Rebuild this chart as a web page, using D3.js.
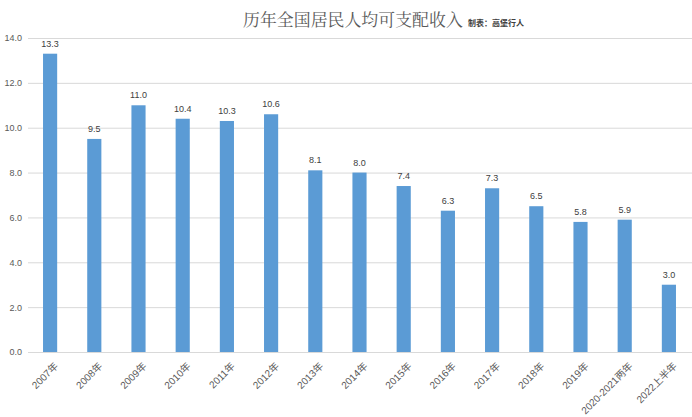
<!DOCTYPE html>
<html><head><meta charset="utf-8">
<script src="https://cdn.jsdelivr.net/npm/d3@7"></script>
<style>body{margin:0;background:#fff;}svg{display:block;}</style>
</head><body>
<svg id="c" width="692" height="417"></svg>
<script>
const categories = ["2007年","2008年","2009年","2010年","2011年","2012年","2013年","2014年","2015年","2016年","2017年","2018年","2019年","2020-2021两年","2022上半年"];
const values = [13.3,9.5,11.0,10.4,10.3,10.6,8.1,8.0,7.4,6.3,7.3,6.5,5.8,5.9,3.0];
const yTicks = [0,2,4,6,8,10,12,14];
const title = "历年全国居民人均可支配收入";
const credit = "制表：高堡行人";

const svg = d3.select("#c");
const W = 692, H = 417;
const m = {l: 28, r: 1, t: 38, b: 65};
const x = d3.scaleBand().domain(categories).range([m.l, W - m.r]).paddingInner(0.68).paddingOuter(0.34);
const y = d3.scaleLinear().domain([0, 14]).range([H - m.b, m.t]);

// gridlines
svg.append("g").selectAll("line").data(yTicks).join("line")
  .attr("x1", m.l).attr("x2", W)
  .attr("y1", d => y(d) + 0.5).attr("y2", d => y(d) + 0.5)
  .attr("stroke", "#d9d9d9").attr("stroke-width", 1);

// y axis labels
const yAxis = d3.axisLeft(y).tickValues(yTicks).tickFormat(d3.format(".1f")).tickSize(0).tickPadding(6);
const yg = svg.append("g").attr("transform", `translate(${m.l},0)`).call(yAxis);
yg.select(".domain").remove();
yg.selectAll("text").attr("fill", "#595959").style("font-family", "'Liberation Sans', Arial, sans-serif").style("font-size", "9px");

// bars
svg.append("g").selectAll("rect").data(values).join("rect")
  .attr("x", (d, i) => x(categories[i]))
  .attr("width", x.bandwidth())
  .attr("y", d => y(d))
  .attr("height", d => y(0) - y(d))
  .attr("fill", "#5B9BD5");

// value labels
svg.append("g").selectAll("text").data(values).join("text")
  .attr("x", (d, i) => x(categories[i]) + x.bandwidth() / 2)
  .attr("y", d => y(d) - 7)
  .attr("text-anchor", "middle")
  .attr("fill", "#404040")
  .style("font-family", "'Liberation Sans', Arial, sans-serif")
  .style("font-size", "9px")
  .text(d => d3.format(".1f")(d));

// x axis
const xAxis = d3.axisBottom(x).tickSize(0).tickPadding(6);
const xg = svg.append("g").attr("transform", `translate(0,${y(0)})`).call(xAxis);
xg.select(".domain").remove();
xg.selectAll("text")
  .attr("fill", "#595959")
  .style("font-family", "'Liberation Sans', 'Noto Sans CJK SC', sans-serif")
  .style("font-size", "10px")
  .attr("text-anchor", "end")
  .attr("dy", "0.35em")
  .attr("transform", "translate(2,8) rotate(-45)");

// title
const t = svg.append("text").attr("x", 243).attr("y", 26).attr("text-anchor", "start")
  .style("font-family", "'Noto Serif CJK SC', 'Noto Sans CJK SC', serif")
  .style("font-size", "20px").attr("fill", "#595959").text(title);
const tw = t.node().getComputedTextLength();
if (tw > 0) t.style("font-size", (20 * 220 / tw).toFixed(2) + "px");
svg.append("text").attr("x", 468).attr("y", 26)
  .style("font-family", "'Noto Sans CJK SC', sans-serif")
  .style("font-size", "8px").style("font-weight", "bold").attr("fill", "#404040").text(credit);
</script>
</body></html>
